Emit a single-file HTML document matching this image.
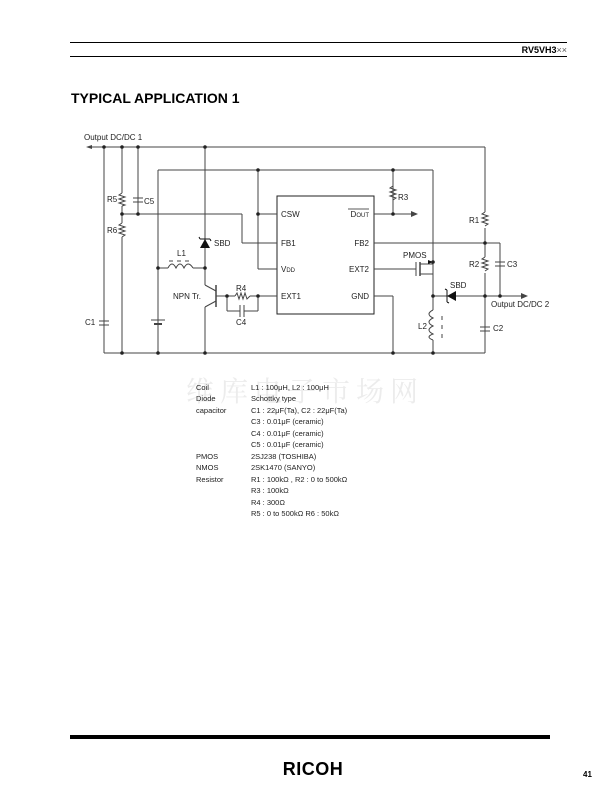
<!DOCTYPE html>
<html><head><meta charset="utf-8"><style>
body{margin:0;background:#fff;width:609px;height:793px;overflow:hidden;position:relative;font-family:"Liberation Sans",Arial,sans-serif}
</style></head><body>
<svg width="609" height="793" style="position:absolute;left:0;top:0" font-family="Liberation Sans, Arial, sans-serif">
<line x1="70" y1="42.5" x2="567" y2="42.5" stroke="#000" stroke-width="1"/>
<line x1="70" y1="56.5" x2="567" y2="56.5" stroke="#000" stroke-width="1"/>
<text x="567" y="53" font-size="9" font-weight="bold" text-anchor="end">RV5VH3<tspan font-weight="normal" fill="#555">××</tspan></text>
<text x="71" y="103" font-size="14" font-weight="bold">TYPICAL APPLICATION 1</text>
<text x="305" y="401" font-size="28" fill="#ececec" text-anchor="middle" font-family="Noto Serif CJK SC, serif" letter-spacing="6">维库电子市场网</text>
<g stroke="#444" stroke-width="1" fill="none">
<line x1="88" y1="147" x2="485" y2="147"/>
<line x1="485" y1="147" x2="485" y2="353"/>
<line x1="158" y1="170" x2="433" y2="170"/>
<line x1="104" y1="353" x2="485" y2="353"/>
<rect x="277" y="196" width="97" height="118" stroke="#222"/>
<line x1="104" y1="147" x2="104" y2="353"/>
<line x1="122" y1="147" x2="122" y2="353"/>
<line x1="138" y1="147" x2="138" y2="214"/>
<line x1="158" y1="170" x2="158" y2="353"/>
<line x1="205" y1="147" x2="205" y2="285"/>
<line x1="122" y1="214" x2="242" y2="214"/>
<line x1="242" y1="214" x2="242" y2="243"/>
<line x1="242" y1="243" x2="277" y2="243"/>
<line x1="258" y1="170" x2="258" y2="269"/>
<line x1="258" y1="214" x2="277" y2="214"/>
<line x1="258" y1="269" x2="277" y2="269"/>
<line x1="158" y1="268" x2="168" y2="268"/>
<line x1="193" y1="268" x2="205" y2="268"/>
<line x1="216" y1="285" x2="216" y2="307" stroke-width="1.5"/>
<line x1="205" y1="285" x2="216" y2="291"/>
<line x1="216" y1="301" x2="205" y2="307"/>
<line x1="205" y1="307" x2="205" y2="353"/>
<line x1="216" y1="296" x2="235" y2="296"/>
<line x1="250" y1="296" x2="277" y2="296"/>
<line x1="227" y1="296" x2="227" y2="311"/>
<line x1="227" y1="311" x2="240" y2="311"/>
<line x1="244" y1="311" x2="258" y2="311"/>
<line x1="258" y1="311" x2="258" y2="296"/>
<line x1="240" y1="305" x2="240" y2="317"/>
<line x1="244" y1="305" x2="244" y2="317"/>
<line x1="374" y1="214" x2="414" y2="214"/>
<line x1="393" y1="170" x2="393" y2="214"/>
<line x1="374" y1="243" x2="500" y2="243"/>
<line x1="500" y1="243" x2="500" y2="296"/>
<line x1="374" y1="269" x2="416" y2="269"/>
<line x1="416" y1="262" x2="416" y2="276"/>
<line x1="420" y1="262" x2="420" y2="276" stroke-width="1.5"/>
<line x1="420" y1="264" x2="433" y2="264"/>
<line x1="420" y1="274" x2="433" y2="274"/>
<line x1="433" y1="170" x2="433" y2="310"/>
<line x1="433" y1="340" x2="433" y2="353"/>
<line x1="374" y1="296" x2="393" y2="296"/>
<line x1="393" y1="296" x2="393" y2="353"/>
<line x1="433" y1="296" x2="524" y2="296"/>
<line x1="133" y1="198" x2="143" y2="198"/><line x1="133" y1="202" x2="143" y2="202"/>
<line x1="495" y1="262" x2="505" y2="262"/><line x1="495" y1="266" x2="505" y2="266"/>
<line x1="99" y1="321" x2="109" y2="321"/><line x1="99" y1="325" x2="109" y2="325"/>
<line x1="480" y1="327" x2="490" y2="327"/><line x1="480" y1="331" x2="490" y2="331"/>
<line x1="151" y1="320" x2="165" y2="320"/><line x1="154" y1="324" x2="162" y2="324" stroke-width="2"/>
<path d="M168 268 q4 -8 8 0 q4 -8 8 0 q4 -8 9 0"/>
<line x1="169" y1="261" x2="173" y2="261"/><line x1="177" y1="261" x2="181" y2="261"/><line x1="185" y1="261" x2="189" y2="261"/>
<path d="M433 310 q-8 4 0 8 q-8 4 0 8 q-8 4 0 8 q-8 3 0 6"/>
<line x1="442" y1="316" x2="442" y2="320"/><line x1="442" y1="325" x2="442" y2="329"/><line x1="442" y1="334" x2="442" y2="338"/>
</g>
<g stroke="#444" stroke-width="1" fill="none">
<rect x="119" y="193" width="6" height="13" fill="#fff" stroke="none"/>
<polyline points="122,193 119,195 125,197 119,199 125,201 119,203 125,205 122,206"/>
<rect x="119" y="223" width="6" height="14" fill="#fff" stroke="none"/>
<polyline points="122,223 119,225 125,227 119,229 125,231 119,233 125,235 122,237"/>
<polyline points="393,186 390,188 396,190 390,192 396,194 390,196 396,198 393,200"/>
<rect x="482" y="212" width="6" height="16" fill="#fff" stroke="none"/>
<polyline points="485,212 482,214 488,216 482,218 488,220 482,222 488,224 485,226"/>
<rect x="482" y="257" width="6" height="16" fill="#fff" stroke="none"/>
<polyline points="485,257 482,259 488,261 482,263 488,265 482,267 488,269 485,271"/>
<polyline points="235,296 237,293 239,299 241,293 243,299 245,293 247,299 250,296"/>
</g>
<polygon points="200,248 210,248 205,239" fill="#111"/>
<path d="M200 239 h10 M200 239 l-1 -2 M210 239 l1 2" stroke="#111" fill="none"/>
<polygon points="456,291 456,301 447,296" fill="#111"/>
<path d="M447 290 v12 M447 290 l-2 -1 M447 302 l2 1" stroke="#111" fill="none"/>
<polygon points="433,262 428,260 428,264" fill="#111"/>
<polygon points="418,214 411,211 411,217" fill="#444"/>
<polygon points="528,296 521,293 521,299" fill="#444"/>
<polygon points="86,147 92,145 92,149" fill="#444"/>
<g fill="#222">
<circle cx="104" cy="147" r="1.8"/><circle cx="122" cy="147" r="1.8"/><circle cx="138" cy="147" r="1.8"/><circle cx="205" cy="147" r="1.8"/>
<circle cx="258" cy="170" r="1.8"/><circle cx="393" cy="170" r="1.8"/><circle cx="122" cy="214" r="1.8"/><circle cx="138" cy="214" r="1.8"/>
<circle cx="258" cy="214" r="1.8"/><circle cx="158" cy="268" r="1.8"/><circle cx="205" cy="268" r="1.8"/><circle cx="227" cy="296" r="1.8"/><circle cx="258" cy="296" r="1.8"/>
<circle cx="393" cy="214" r="1.8"/><circle cx="485" cy="243" r="1.8"/><circle cx="433" cy="262" r="1.8"/><circle cx="433" cy="296" r="1.8"/>
<circle cx="485" cy="296" r="1.8"/><circle cx="500" cy="296" r="1.8"/>
<circle cx="122" cy="353" r="1.8"/><circle cx="158" cy="353" r="1.8"/><circle cx="205" cy="353" r="1.8"/><circle cx="393" cy="353" r="1.8"/><circle cx="433" cy="353" r="1.8"/>
</g>
<g font-size="8" fill="#222">
<text x="84" y="140">Output DC/DC 1</text>
<text x="107" y="202">R5</text><text x="144" y="204">C5</text><text x="107" y="233">R6</text>
<text x="85" y="325">C1</text>
<text x="214" y="246">SBD</text><text x="177" y="256">L1</text><text x="173" y="299">NPN Tr.</text>
<text x="236" y="291">R4</text><text x="236" y="325">C4</text>
<text x="281" y="217">CSW</text><text x="281" y="246">FB1</text><text x="281" y="272">V<tspan font-size="6">DD</tspan></text><text x="281" y="299">EXT1</text>
<text x="369" y="217" text-anchor="end">D<tspan font-size="6">OUT</tspan></text>
<line x1="348" y1="209" x2="369" y2="209" stroke="#222" stroke-width="0.8"/>
<text x="369" y="246" text-anchor="end">FB2</text><text x="369" y="272" text-anchor="end">EXT2</text><text x="369" y="299" text-anchor="end">GND</text>
<text x="398" y="200">R3</text><text x="403" y="258">PMOS</text>
<text x="469" y="223">R1</text><text x="469" y="267">R2</text><text x="507" y="267">C3</text>
<text x="450" y="288">SBD</text><text x="491" y="307">Output DC/DC 2</text>
<text x="418" y="329">L2</text><text x="493" y="331">C2</text>
</g>
<g font-size="7.5" fill="#222">
<text x="196" y="390">Coil</text><text x="196" y="401">Diode</text><text x="196" y="413">capacitor</text>
<text x="196" y="459">PMOS</text><text x="196" y="470">NMOS</text><text x="196" y="482">Resistor</text>
<text x="251" y="390">L1 : 100μH, L2 : 100μH</text>
<text x="251" y="401">Schottky type</text>
<text x="251" y="413">C1 : 22μF(Ta), C2 : 22μF(Ta)</text>
<text x="251" y="424">C3 : 0.01μF (ceramic)</text>
<text x="251" y="436">C4 : 0.01μF (ceramic)</text>
<text x="251" y="447">C5 : 0.01μF (ceramic)</text>
<text x="251" y="459">2SJ238 (TOSHIBA)</text>
<text x="251" y="470">2SK1470 (SANYO)</text>
<text x="251" y="482">R1 : 100kΩ , R2 : 0 to 500kΩ</text>
<text x="251" y="493">R3 : 100kΩ</text>
<text x="251" y="505">R4 : 300Ω</text>
<text x="251" y="516">R5 : 0 to 500kΩ  R6 : 50kΩ</text>
</g>
<rect x="70" y="735" width="480" height="4" fill="#000"/>
<text x="313" y="775" font-size="18" font-weight="bold" text-anchor="middle" letter-spacing="0.5">RICOH</text>
<text x="583" y="777" font-size="8" font-weight="bold">41</text>
</svg>
</body></html>
